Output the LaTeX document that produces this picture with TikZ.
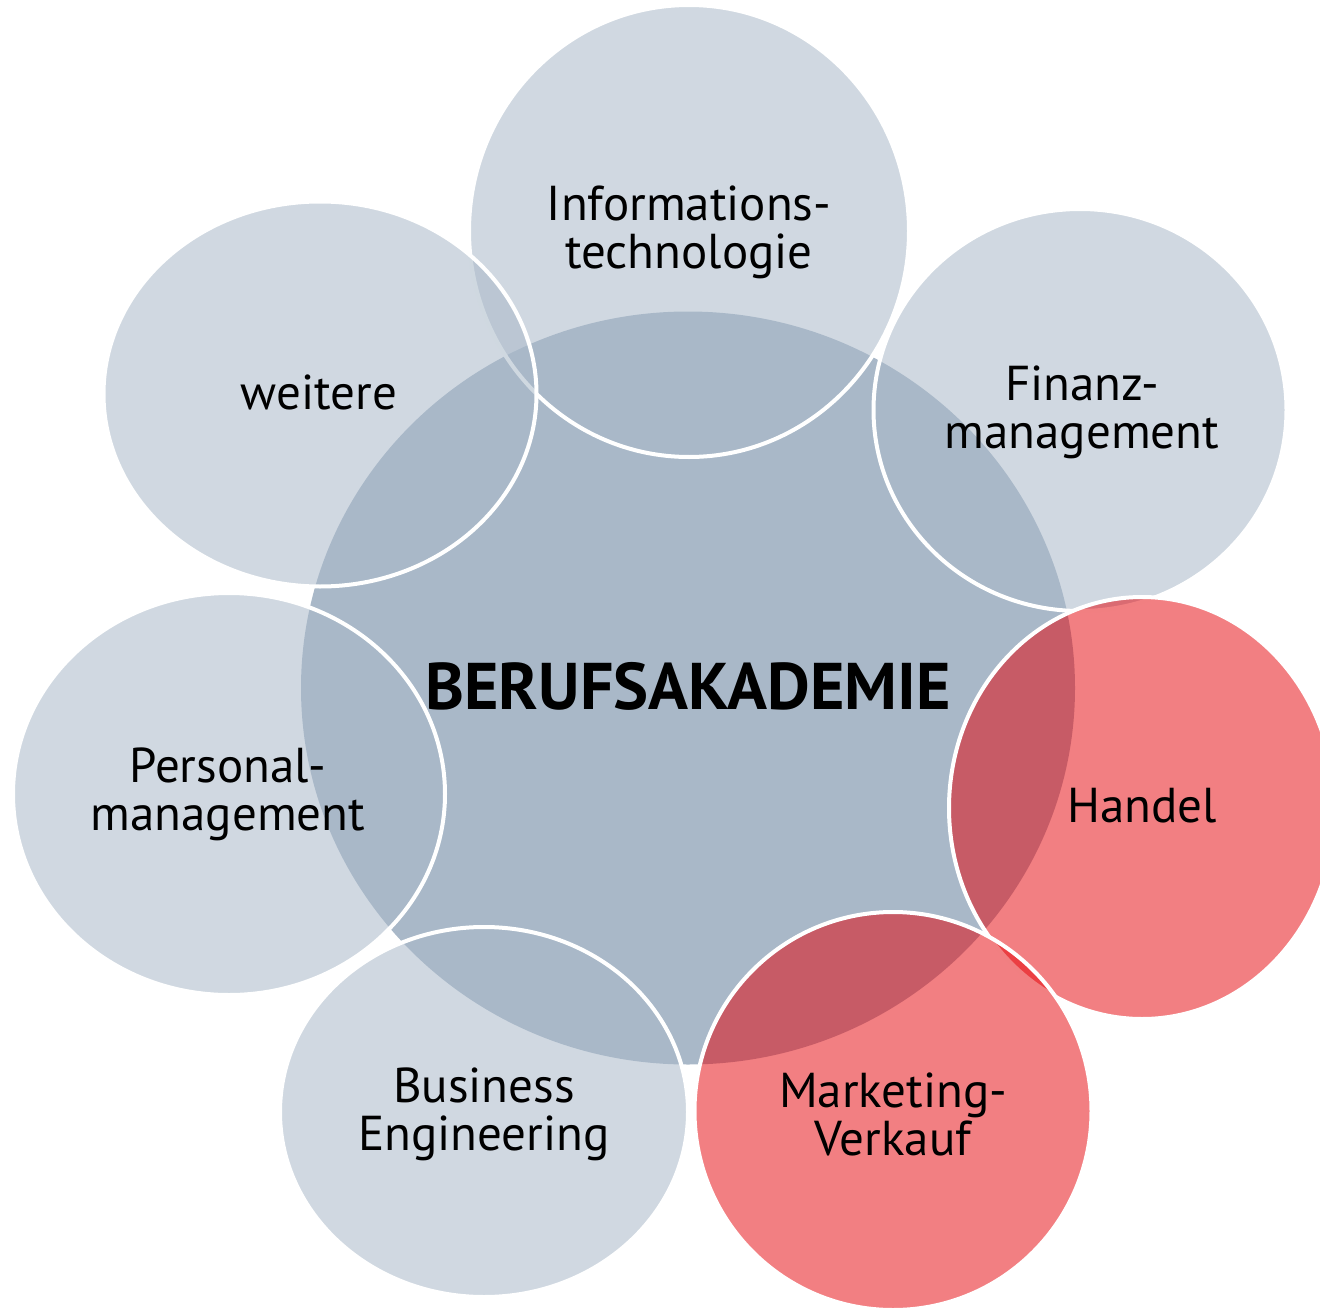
\documentclass[tikz,border=0pt]{standalone}
\usepackage{fontspec}
\setmainfont{PT Sans}
\usetikzlibrary{shapes.geometric}
\definecolor{hub}{HTML}{A9B8C8}
\definecolor{accent}{RGB}{229,0,5}
\tikzset{
  oval/.style={ellipse, inner sep=0pt, outer sep=0pt},
  hubstyle/.style={oval, fill=hub},
  sat/.style={oval, fill=hub, fill opacity=0.55, draw=white, line width=4pt},
  redsat/.style={oval, fill=accent, fill opacity=0.5, draw=white, line width=4pt},
  lbl/.style={align=center, text=black, inner sep=0pt, font=\fontsize{49}{48}\selectfont},
}
\begin{document}
\begin{tikzpicture}[x=1pt,y=-1pt]
\useasboundingbox (0,0) rectangle (1320,1311);
\node[hubstyle, minimum width=774pt, minimum height=753pt] (hub) at (688,688) {};
\node[sat, minimum width=440pt, minimum height=452pt] (it) at (689,231) {};
\node[sat, minimum width=413pt, minimum height=402pt] (fin) at (1080,410) {};
\node[redsat, minimum width=386pt, minimum height=422pt] (han) at (1142,808) {};
\node[redsat, minimum width=397pt, minimum height=398pt] (mar) at (893,1111) {};
\node[sat, minimum width=408pt, minimum height=370pt] (bus) at (484,1112) {};
\node[sat, minimum width=432pt, minimum height=402pt] (per) at (229,794) {};
\node[sat, minimum width=433pt, minimum height=385pt] (wei) at (320,394) {};
\node[lbl, font=\fontsize{66}{66}\bfseries\selectfont] (thub) at (688,686) {BERUFSAKADEMIE};
\node[lbl] (tit) at (689,232) {Informations-\\technologie};
\node[lbl] (tfin) at (1082,412) {Finanz-\\management};
\node[lbl] (than) at (1142,806) {Handel};
\node[lbl] (tmar) at (893,1114) {Marketing-\\Verkauf};
\node[lbl] (tbus) at (484,1114) {Business\\Engineering};
\node[lbl] (tper) at (228,794) {Personal-\\management};
\node[lbl] (twei) at (319,392) {weitere};
\end{tikzpicture}
\end{document}
